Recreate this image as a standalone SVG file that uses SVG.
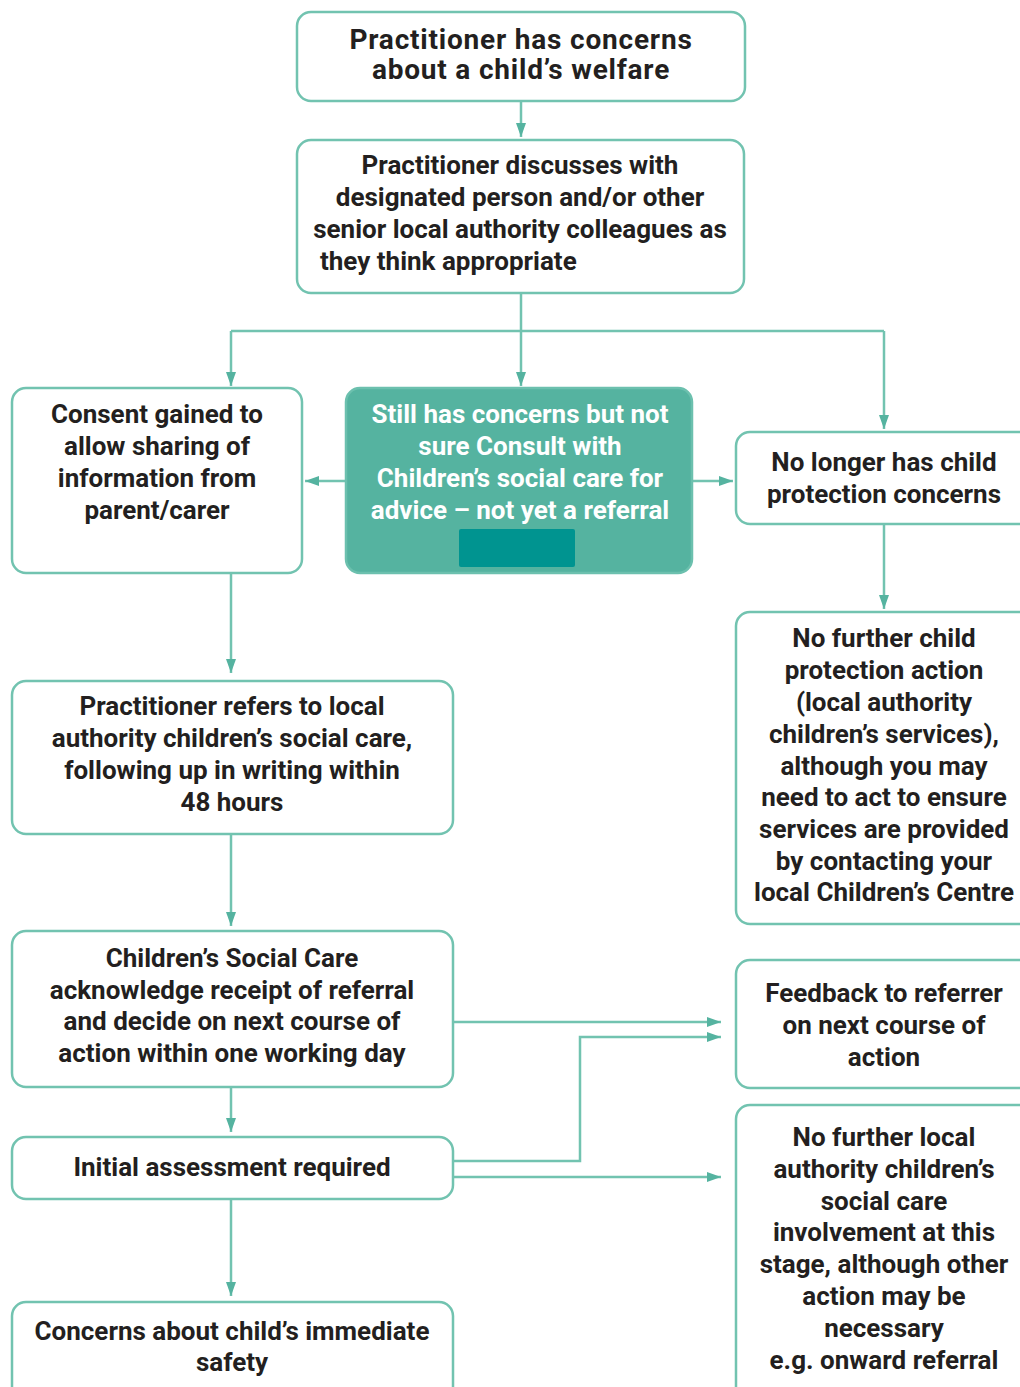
<svg xmlns="http://www.w3.org/2000/svg" width="1020" height="1387" viewBox="0 0 1020 1387">
<style>
.box{fill:#fff;stroke:#72c3b0;stroke-width:2.5}
.tbox{fill:#55b3a0;stroke:#6cc0ae;stroke-width:2.5}
.t{font-family:Roboto,"Liberation Sans",sans-serif;font-weight:700;font-size:26px;fill:#231f20;text-anchor:middle}
.h{font-size:28px;letter-spacing:0.8px}
.w{fill:#fff}
.c{fill:none;stroke:#72c3b0;stroke-width:2.5}
</style>
<defs>
<marker id="ah" viewBox="0 0 14 10" refX="14" refY="5" markerWidth="14" markerHeight="10" markerUnits="userSpaceOnUse" orient="auto">
<path d="M0,0 L14,5 L0,10 Z" fill="#55b3a0"/>
</marker>
</defs>
<rect width="1020" height="1387" fill="#fff"/>
<g id="connectors">
<path class="c" d="M521,101 V137" marker-end="url(#ah)"/>
<path class="c" d="M521,293 V386" marker-end="url(#ah)"/>
<path class="c" d="M231,331 H884"/>
<path class="c" d="M231,331 V386" marker-end="url(#ah)"/>
<path class="c" d="M884,331 V429" marker-end="url(#ah)"/>
<path class="c" d="M346,481 H305" marker-end="url(#ah)"/>
<path class="c" d="M692,481 H733" marker-end="url(#ah)"/>
<path class="c" d="M884,524 V609" marker-end="url(#ah)"/>
<path class="c" d="M231,573 V673" marker-end="url(#ah)"/>
<path class="c" d="M231,834 V926" marker-end="url(#ah)"/>
<path class="c" d="M231,1087 V1132" marker-end="url(#ah)"/>
<path class="c" d="M231,1199 V1296" marker-end="url(#ah)"/>
<path class="c" d="M453,1022 H721" marker-end="url(#ah)"/>
<path class="c" d="M453,1161 H580 V1037 H721" marker-end="url(#ah)"/>
<path class="c" d="M453,1177 H721" marker-end="url(#ah)"/>
</g>
<g id="n1">
<rect class="box" x="297" y="12" width="448" height="89" rx="14"/>
<text class="t h"><tspan x="521" y="49">Practitioner has concerns</tspan><tspan x="521" y="79">about a child’s welfare</tspan></text>
</g>
<g id="n2">
<rect class="box" x="297" y="140" width="447" height="153" rx="14"/>
<text class="t"><tspan x="520" y="174">Practitioner discusses with</tspan><tspan x="520" y="206">designated person and/or other</tspan><tspan x="520" y="238">senior local authority colleagues as</tspan><tspan x="320" y="270" style="text-anchor:start">they think appropriate</tspan></text>
</g>
<g id="n3">
<rect class="box" x="12" y="388" width="290" height="185" rx="14"/>
<text class="t"><tspan x="157" y="423">Consent gained to</tspan><tspan x="157" y="455">allow sharing of</tspan><tspan x="157" y="487">information from</tspan><tspan x="157" y="519">parent/carer</tspan></text>
</g>
<g id="n4">
<rect class="tbox" x="346" y="388" width="346" height="185" rx="14"/>
<text class="t w"><tspan x="520" y="423">Still has concerns but not</tspan><tspan x="520" y="455">sure Consult with</tspan><tspan x="520" y="487">Children’s social care for</tspan><tspan x="520" y="519">advice – not yet a referral</tspan></text>
<rect x="459" y="529" width="116" height="38" rx="2" fill="#009490"/>
</g>
<g id="n5">
<rect class="box" x="736" y="432" width="300" height="92" rx="14"/>
<text class="t"><tspan x="884" y="471">No longer has child</tspan><tspan x="884" y="503">protection concerns</tspan></text>
</g>
<g id="n6">
<rect class="box" x="736" y="612" width="300" height="312" rx="14"/>
<text class="t"><tspan x="884" y="647">No further child</tspan><tspan x="884" y="679">protection action</tspan><tspan x="884" y="711">(local authority</tspan><tspan x="884" y="743">children’s services),</tspan><tspan x="884" y="775">although you may</tspan><tspan x="884" y="806">need to act to ensure</tspan><tspan x="884" y="838">services are provided</tspan><tspan x="884" y="870">by contacting your</tspan><tspan x="884" y="901">local Children’s Centre</tspan></text>
</g>
<g id="n7">
<rect class="box" x="12" y="681" width="441" height="153" rx="14"/>
<text class="t"><tspan x="232" y="715">Practitioner refers to local</tspan><tspan x="232" y="747">authority children’s social care,</tspan><tspan x="232" y="779">following up in writing within</tspan><tspan x="232" y="811">48 hours</tspan></text>
</g>
<g id="n8">
<rect class="box" x="12" y="931" width="441" height="156" rx="14"/>
<text class="t"><tspan x="232" y="967">Children’s Social Care</tspan><tspan x="232" y="999">acknowledge receipt of referral</tspan><tspan x="232" y="1030">and decide on next course of</tspan><tspan x="232" y="1062">action within one working day</tspan></text>
</g>
<g id="n9">
<rect class="box" x="12" y="1137" width="441" height="62" rx="14"/>
<text class="t"><tspan x="232" y="1176">Initial assessment required</tspan></text>
</g>
<g id="n10">
<rect class="box" x="12" y="1302" width="441" height="100" rx="14"/>
<text class="t"><tspan x="232" y="1340">Concerns about child’s immediate</tspan><tspan x="232" y="1371">safety</tspan></text>
</g>
<g id="n11">
<rect class="box" x="736" y="960" width="300" height="128" rx="14"/>
<text class="t"><tspan x="884" y="1002">Feedback to referrer</tspan><tspan x="884" y="1034">on next course of</tspan><tspan x="884" y="1066">action</tspan></text>
</g>
<g id="n12">
<rect class="box" x="736" y="1105" width="300" height="300" rx="14"/>
<text class="t"><tspan x="884" y="1146">No further local</tspan><tspan x="884" y="1178">authority children’s</tspan><tspan x="884" y="1210">social care</tspan><tspan x="884" y="1241">involvement at this</tspan><tspan x="884" y="1273">stage, although other</tspan><tspan x="884" y="1305">action may be</tspan><tspan x="884" y="1337">necessary</tspan><tspan x="884" y="1369">e.g. onward referral</tspan></text>
</g>
</svg>
